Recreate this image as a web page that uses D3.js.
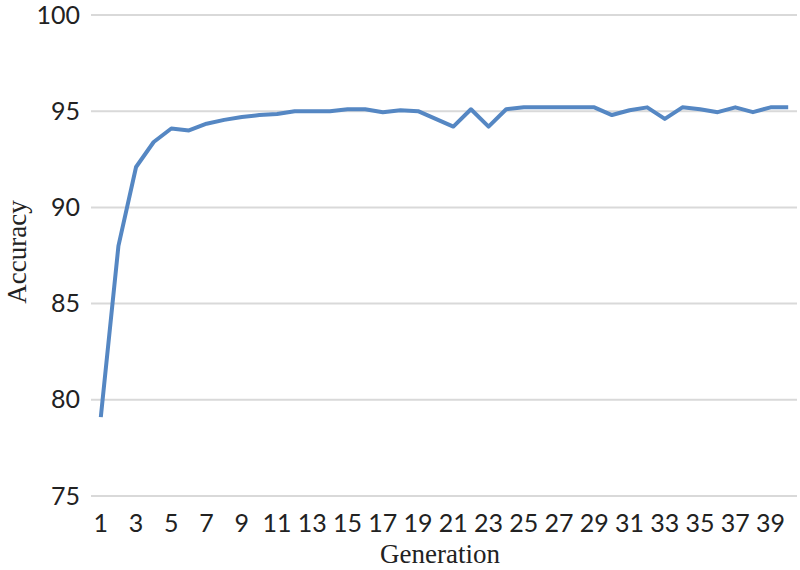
<!DOCTYPE html>
<html>
<head>
<meta charset="utf-8">
<script src="https://cdn.jsdelivr.net/npm/d3@7"></script>
<style>
  body { margin: 0; background: #fff; }
  svg { display: block; }
</style>
</head>
<body>
<div id="mainDiv"></div>
<script>
// generations 1..40
var generations = d3.range(1, 41);
var accuracy = [
  79.1, 88.0, 92.1, 93.4, 94.1, 94.0, 94.35, 94.55, 94.7, 94.8,
  94.85, 95.0, 95.0, 95.0, 95.1, 95.1, 94.95, 95.05, 95.0, 94.6,
  94.2, 95.1, 94.2, 95.1, 95.2, 95.2, 95.2, 95.2, 95.2, 94.8,
  95.05, 95.2, 94.6, 95.2, 95.1, 94.95, 95.2, 94.95, 95.2, 95.2
];
var yTicks = [75, 80, 85, 90, 95, 100];
var xTicks = generations.filter(function(g){ return g % 2 == 1; });

var chartW = 800, chartH = 570;
var plotLeft = 92, plotRight = 797, plotTop = 15, plotBottom = 496;

var svg = d3.select("#mainDiv").append("svg")
  .attr("width", chartW)
  .attr("height", chartH);

var x = d3.scaleBand().domain(generations).range([plotLeft, plotRight]).padding(0);
var y = d3.scaleLinear().domain([75, 100]).range([plotBottom, plotTop]);

// gridlines
svg.append("g").selectAll("line")
  .data(yTicks)
  .enter().append("line")
  .attr("x1", plotLeft - 1)
  .attr("x2", plotRight)
  .attr("y1", function(d){ return y(d); })
  .attr("y2", function(d){ return y(d); })
  .attr("stroke", "#d9d9d9")
  .attr("stroke-width", 2);

// y axis
var yAxis = svg.append("g")
  .attr("transform", "translate(" + (plotLeft - 1) + ",0)")
  .call(d3.axisLeft(y).tickValues(yTicks).tickSize(0).tickPadding(11));
yAxis.select(".domain").remove();
yAxis.selectAll("text")
  .attr("font-family", "Lato, 'Open Sans', sans-serif")
  .attr("font-size", "25px")
  .attr("fill", "#222");

// x axis
var xAxis = svg.append("g")
  .attr("transform", "translate(0," + plotBottom + ")")
  .call(d3.axisBottom(x).tickValues(xTicks).tickSize(0).tickPadding(18));
xAxis.select(".domain").remove();
xAxis.selectAll("text")
  .attr("font-family", "Lato, 'Open Sans', sans-serif")
  .attr("font-size", "25px")
  .attr("fill", "#222");

// line
var line = d3.line()
  .x(function(d, i){ return x(generations[i]) + x.bandwidth() / 2; })
  .y(function(d){ return y(d); });

svg.append("path")
  .datum(accuracy)
  .attr("d", line)
  .attr("fill", "none")
  .attr("stroke", "#5587c3")
  .attr("stroke-width", 4)
  .attr("stroke-linejoin", "round");

// axis titles
svg.append("text")
  .attr("x", 440)
  .attr("y", 563)
  .attr("text-anchor", "middle")
  .attr("font-family", "'Liberation Serif', 'Times New Roman', serif")
  .attr("font-size", "27px")
  .attr("fill", "#222")
  .text("Generation");

svg.append("text")
  .attr("transform", "translate(26,252) rotate(-90)")
  .attr("text-anchor", "middle")
  .attr("font-family", "'Liberation Serif', 'Times New Roman', serif")
  .attr("font-size", "27px")
  .attr("fill", "#222")
  .text("Accuracy");
</script>
</body>
</html>
